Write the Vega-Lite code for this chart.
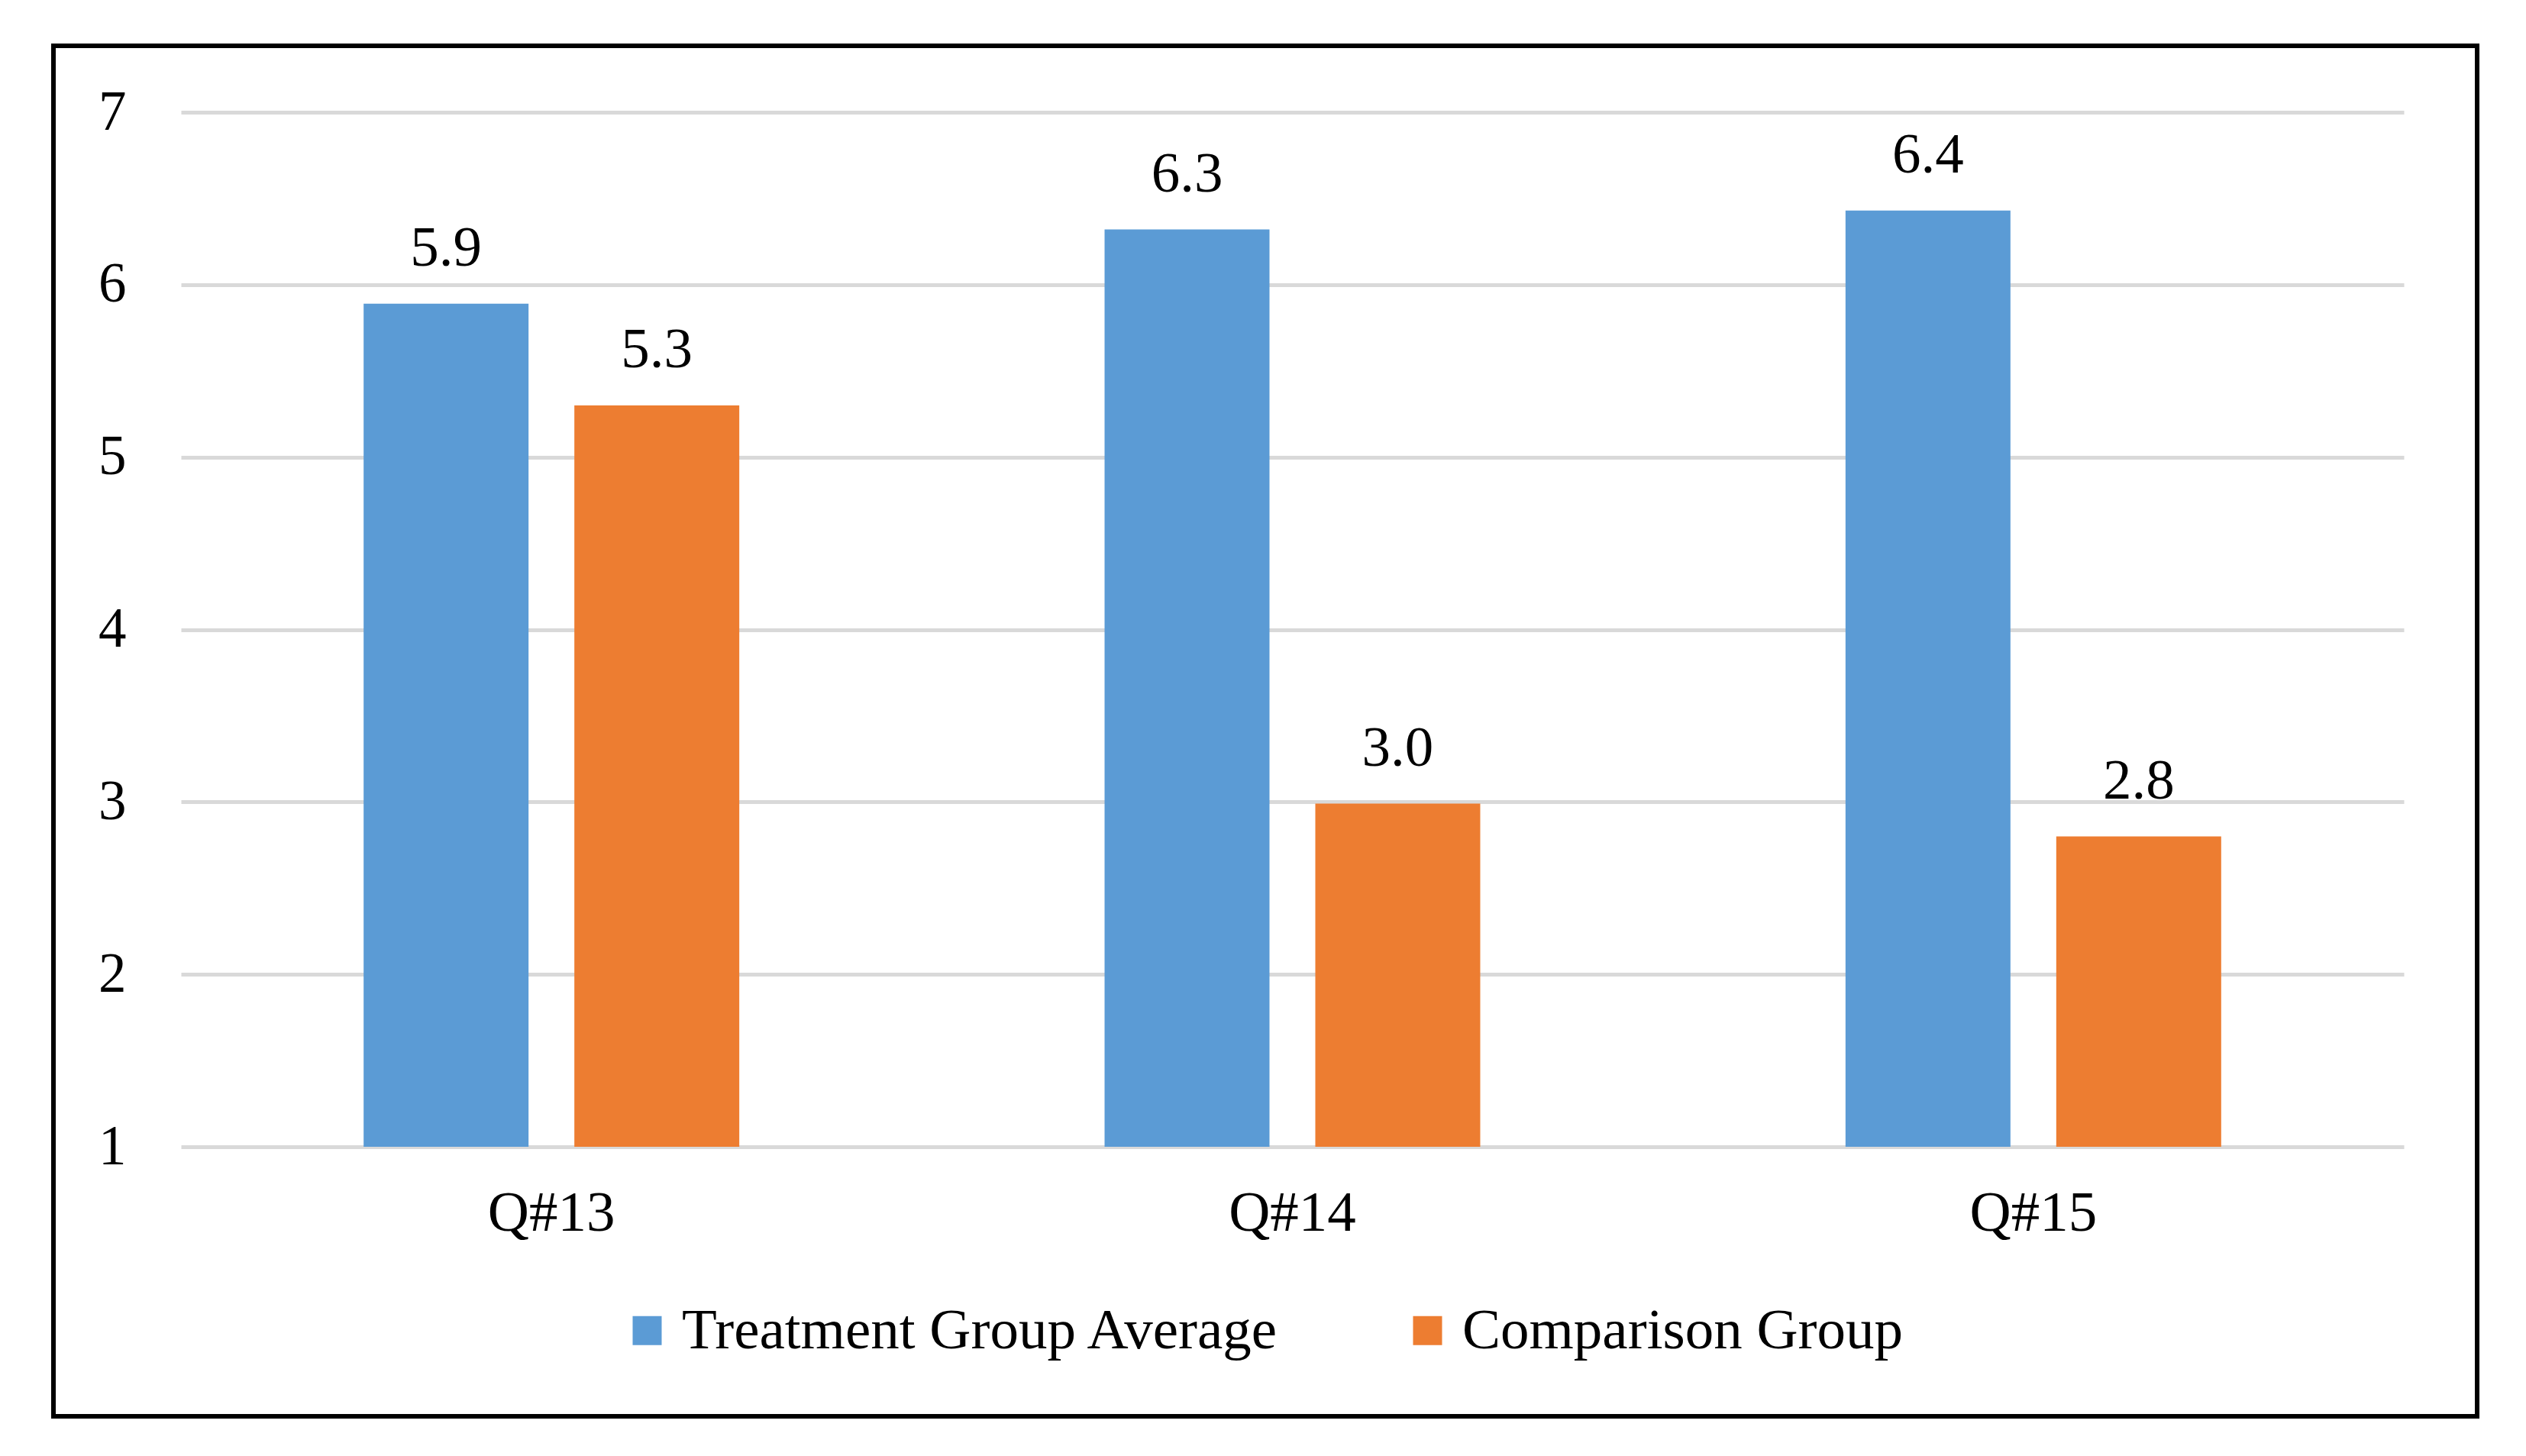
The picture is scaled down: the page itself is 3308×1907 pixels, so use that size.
{
  "$schema": "https://vega.github.io/schema/vega-lite/v6.json",
  "width": 3174,
  "height": 1795,
  "autosize": {"type": "none"},
  "padding": {"left": 70, "top": 60, "right": 64, "bottom": 52},
  "background": "white",
  "config": {
    "view": {"stroke": "black", "strokeWidth": 6},
    "font": "Liberation Serif",
    "text": {"font": "Liberation Serif"}
  },
  "data": {
    "values": [
      {"question": "Q#13", "group": "Treatment Group Average", "score": 5.89},
      {"question": "Q#13", "group": "Comparison Group", "score": 5.30},
      {"question": "Q#14", "group": "Treatment Group Average", "score": 6.32},
      {"question": "Q#14", "group": "Comparison Group", "score": 2.99},
      {"question": "Q#15", "group": "Treatment Group Average", "score": 6.43},
      {"question": "Q#15", "group": "Comparison Group", "score": 2.80}
    ]
  },
  "encoding": {
    "x": {
      "field": "question",
      "type": "nominal",
      "sort": ["Q#13", "Q#14", "Q#15"],
      "scale": {"range": [167, 3078], "paddingInner": 0.493, "paddingOuter": 0.2465},
      "axis": {
        "orient": "bottom",
        "offset": -353,
        "title": null,
        "domain": false,
        "ticks": false,
        "grid": false,
        "labelAngle": 0,
        "labelPadding": 109,
        "labelBaseline": "alphabetic",
        "labelFont": "Liberation Serif",
        "labelFontSize": 75,
        "labelColor": "black"
      }
    },
    "xOffset": {
      "field": "group",
      "type": "nominal",
      "sort": ["Treatment Group Average", "Comparison Group"],
      "scale": {"paddingInner": 0.2174, "paddingOuter": 0}
    },
    "y": {
      "field": "score",
      "type": "quantitative",
      "scale": {"domain": [1, 7], "range": [1442, 87], "zero": false, "nice": false},
      "axis": {
        "values": [1, 2, 3, 4, 5, 6, 7],
        "title": null,
        "domain": false,
        "ticks": false,
        "labelAlign": "right",
        "labelBaseline": "middle",
        "labelPadding": -95,
        "labelFont": "Liberation Serif",
        "labelFontSize": 73,
        "labelColor": "black",
        "gridColor": "#d9d9d9",
        "gridWidth": 5
      }
    }
  },
  "layer": [
    {
      "mark": {"type": "bar"},
      "encoding": {
        "y2": {"datum": 1},
        "color": {
          "field": "group",
          "type": "nominal",
          "sort": ["Treatment Group Average", "Comparison Group"],
          "scale": {"range": ["#5B9BD5", "#ED7D31"]},
          "legend": {
            "orient": "none",
            "legendX": 740,
            "legendY": 1645,
            "direction": "horizontal",
            "title": null,
            "symbolType": "square",
            "symbolSize": 1444,
            "symbolStrokeWidth": 0,
            "labelFont": "Liberation Serif",
            "labelFontSize": 75,
            "labelColor": "black",
            "labelOffset": 8,
            "labelLimit": 2000,
            "columnPadding": 155,
            "padding": 0
          }
        }
      }
    },
    {
      "mark": {"type": "text", "baseline": "alphabetic", "dy": -50, "fontSize": 75, "color": "black", "font": "Liberation Serif"},
      "encoding": {
        "text": {"field": "score", "type": "quantitative", "format": ".1f"}
      }
    }
  ]
}
